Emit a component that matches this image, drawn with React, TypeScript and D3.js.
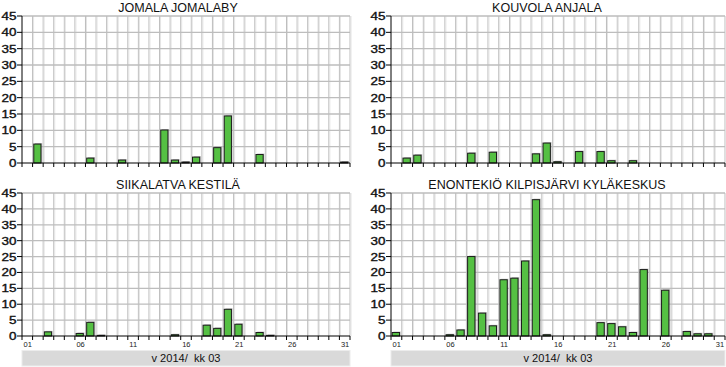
import * as d3 from 'd3'

const DAYS = d3.range(1, 32)
const X_TICK_LABELS = ['01', '06', '11', '16', '21', '26', '31']
const Y_TICKS = [0, 5, 10, 15, 20, 25, 30, 35, 40, 45]
const AXIS_LABEL = 'v 2014/  kk 03'

const TITLES = ['JOMALA JOMALABY', 'KOUVOLA ANJALA', 'SIIKALATVA KESTILÄ', 'ENONTEKIÖ KILPISJÄRVI KYLÄKESKUS']

// daily values, days 1..31
const JOMALA = [0, 5.8, 0, 0, 0, 0, 1.5, 0, 0, 0.9, 0, 0, 0, 10.1, 0.9, 0.3, 1.8, 0, 4.7, 14.4, 0, 0, 2.6, 0, 0, 0, 0, 0, 0, 0, 0.3]
const KOUVOLA = [0, 1.5, 2.4, 0, 0, 0, 0, 3.0, 0, 3.3, 0, 0, 0, 2.8, 6.1, 0.4, 0, 3.5, 0, 3.5, 0.7, 0, 0.7, 0, 0, 0, 0, 0, 0, 0, 0]
const SIIKALATVA = [0, 0, 1.3, 0, 0, 0.8, 4.3, 0.2, 0, 0, 0, 0, 0, 0, 0.4, 0, 0, 3.4, 2.4, 8.4, 3.7, 0, 1.1, 0.2, 0, 0, 0, 0, 0, 0, 0]
const ENONTEKIO = [1.1, 0, 0, 0, 0, 0.4, 1.9, 25.0, 7.2, 3.2, 17.7, 18.2, 23.6, 42.9, 0.4, 0, 0, 0, 0, 4.2, 3.9, 2.9, 1.1, 20.9, 0, 14.4, 0, 1.4, 0.7, 0.7, 0]

const SERIES = [JOMALA, KOUVOLA, SIIKALATVA, ENONTEKIO]

const W = 726
const H = 367
const FONT = '"Liberation Sans", Arial, sans-serif'

interface PanelBox { x0: number; x1: number; y0: number; y1: number; bottom: boolean }

const BOXES: PanelBox[] = [
  { x0: 22, x1: 350, y0: 16, y1: 163, bottom: false },
  { x0: 391, x1: 725, y0: 16, y1: 163, bottom: false },
  { x0: 22, x1: 350, y0: 193, y1: 336, bottom: true },
  { x0: 391, x1: 725, y0: 193, y1: 336, bottom: true },
]

function Panel({ box, title, values, panelLeft }: { box: PanelBox; title: string; values: number[]; panelLeft: number }) {
  const x = d3.scaleBand<number>().domain(DAYS).range([box.x0, box.x1]).paddingInner(0).paddingOuter(0)
  const y = d3.scaleLinear().domain([0, 45]).range([box.y1, box.y0])
  const bw = x.bandwidth()
  const bounds = DAYS.map((d) => x(d)!).concat([box.x1])
  const barW = bw * 0.68

  return (
    <g>
      <text x={panelLeft + (box.x1 - panelLeft) / 2 + 3} y={box.y0 - 4.5} textAnchor="middle"
        fontFamily={FONT} fontSize={12.5} fill="#111">{title}</text>

      {/* grid */}
      {bounds.slice(1).map((bx, i) => (
        <g key={'v' + i}>
          <line x1={bx} x2={bx} y1={box.y0} y2={box.y1} stroke="#bdbdbd" strokeWidth={1} />
          <line x1={bx + 1} x2={bx + 1} y1={box.y0} y2={box.y1} stroke="#e4e4e4" strokeWidth={1} />
        </g>
      ))}
      {Y_TICKS.slice(1).map((t) => (
        <line key={'h' + t} x1={box.x0} x2={box.x1} y1={y(t)} y2={y(t)} stroke="#bdbdbd" strokeWidth={1.3} />
      ))}

      {/* bars */}
      {values.map((v, i) => {
        if (!v) return null
        const bx = x(DAYS[i])! + 1.2
        const top = y(v)
        const h = y(0) - top
        return (
          <g key={'b' + i}>
            <rect x={bx + 1.2} y={top - 1} width={barW} height={h + 1} fill="#9a9a9a" opacity={0.6} />
            <rect x={bx} y={top} width={barW} height={h} fill="#55c043" stroke="#1c1c1c" strokeWidth={1} />
          </g>
        )
      })}

      {/* axes */}
      <line x1={box.x0} x2={box.x0} y1={box.y0} y2={box.y1} stroke="#000" strokeWidth={1} />
      <line x1={box.x0} x2={box.x1} y1={box.y1} y2={box.y1} stroke="#000" strokeWidth={1.2} />
      {Y_TICKS.map((t) => (
        <g key={'yt' + t}>
          <line x1={box.x0 - 5} x2={box.x0} y1={y(t)} y2={y(t)} stroke="#000" strokeWidth={1} />
          <text x={box.x0 - 5.5} y={y(t) + 4} textAnchor="end" fontFamily={FONT} fontSize={10.5}
            textLength={String(t).length * 7.5} lengthAdjust="spacingAndGlyphs" fill="#111"
            stroke="#111" strokeWidth={0.35}>{t}</text>
        </g>
      ))}
      {bounds.map((bx, i) => (
        <line key={'xt' + i} x1={bx} x2={bx} y1={box.y1} y2={box.y1 + 4} stroke="#000" strokeWidth={1} />
      ))}

      {box.bottom && (
        <g>
          {X_TICK_LABELS.map((l) => (
            <text key={l} x={x(+l)! + 1.5} y={box.y1 + 11} fontFamily={FONT} fontSize={7.5} fill="#222">{l}</text>
          ))}
          <rect x={box.x0} y={box.y1 + 14.5} width={box.x1 - box.x0} height={15.5} fill="#d9d9d9" stroke="#ececec" strokeWidth={1} />
          <text x={(box.x0 + box.x1) / 2} y={box.y1 + 26} textAnchor="middle" fontFamily={FONT} fontSize={10.5}
            textLength={69} lengthAdjust="spacingAndGlyphs" fill="#111" xmlSpace="preserve">{AXIS_LABEL}</text>
        </g>
      )}
    </g>
  )
}

export default function App() {
  return (
    <div style={{ position: 'absolute', left: 0, top: 0, width: W, height: H, background: '#fff' }}>
      <svg width={W} height={H} viewBox={`0 0 ${W} ${H}`}>
        <rect width={W} height={H} fill="#fff" />
        {BOXES.map((b, i) => (
          <Panel key={i} box={b} title={TITLES[i]} values={SERIES[i]} panelLeft={i % 2 === 0 ? 0 : 363} />
        ))}
      </svg>
    </div>
  )
}
